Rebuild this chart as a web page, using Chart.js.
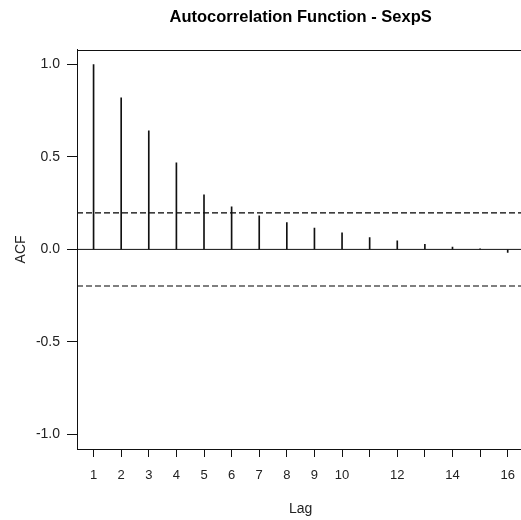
<!DOCTYPE html>
<html>
<head>
<meta charset="utf-8">
<script src="https://cdn.jsdelivr.net/npm/chart.js@4.4.1/dist/chart.umd.min.js"></script>
<style>
  html, body { margin: 0; padding: 0; background: #fff; overflow: hidden; }
  #wrap { width: 526px; height: 520px; }
</style>
</head>
<body>
<div id="wrap"><canvas id="acfChart" width="526" height="520"></canvas></div>
<script>
const lags = [1, 2, 3, 4, 5, 6, 7, 8, 9, 10, 11, 12, 13, 14, 15, 16];
const acfValues = [1.0, 0.82, 0.642, 0.469, 0.295, 0.231, 0.181, 0.145, 0.115, 0.09, 0.064, 0.046, 0.028, 0.013, 0.001, -0.017];
const xTickLabels = [1, 2, 3, 4, 5, 6, 7, 8, 9, 10, 12, 14, 16];
const yTicks = [-1, -0.5, 0, 0.5, 1];
const ciBound = 0.198;
const xMin = 0.4, xMax = 16.6;
const yMin = -1.08, yMax = 1.08;

const ink = '#111';

// box round the plot region, like R's box()
const boxPlugin = {
    id: 'box',
    afterDraw(chart) {
        const a = chart.chartArea;
        const c = chart.ctx;
        c.save();
        c.strokeStyle = ink;
        c.lineWidth = 1;
        c.strokeRect(Math.round(a.left) + 0.5, Math.round(a.top) + 0.5,
                     Math.round(a.right - a.left), Math.round(a.bottom - a.top));
        c.restore();
    }
};

new Chart(document.getElementById('acfChart'), {
    type: 'bar',
    data: {
        datasets: [{
            type: 'bar',
            data: lags.map((l, i) => ({ x: l, y: acfValues[i] })),
            backgroundColor: ink,
            borderWidth: 0,
            barThickness: 1,
            grouped: false
        }, {
            type: 'line',
            data: [{ x: xMin, y: 0 }, { x: xMax, y: 0 }],
            borderColor: ink,
            borderWidth: 1,
            pointRadius: 0
        }, {
            type: 'line',
            data: [{ x: xMin, y: ciBound }, { x: xMax, y: ciBound }],
            borderColor: '#000',
            borderWidth: 1.2,
            borderDash: [6, 3],
            pointRadius: 0
        }, {
            type: 'line',
            data: [{ x: xMin, y: -ciBound }, { x: xMax, y: -ciBound }],
            borderColor: '#000',
            borderWidth: 1.2,
            borderDash: [6, 3],
            pointRadius: 0
        }]
    },
    options: {
        responsive: false,
        animation: false,
        layout: { padding: 0 },
        plugins: {
            legend: { display: false },
            tooltip: { enabled: false },
            title: {
                display: true,
                fullSize: false,
                text: 'Autocorrelation Function - SexpS',
                color: '#000',
                font: { family: 'Liberation Sans', size: 16.5, weight: 'bold' },
                padding: { top: 8, bottom: 22 }
            }
        },
        scales: {
            x: {
                type: 'linear',
                min: xMin,
                max: xMax,
                offset: false,
                afterFit(s) { s.height = 71; },
                afterBuildTicks(s) { s.ticks = lags.map(v => ({ value: v })); },
                ticks: {
                    autoSkip: false,
                    maxRotation: 0,
                    color: '#222',
                    padding: 11,
                    font: { family: 'Liberation Sans', size: 13 },
                    callback: v => xTickLabels.includes(v) ? String(v) : ''
                },
                grid: { offset: false, drawOnChartArea: false, drawTicks: true, tickLength: 8, color: ink },
                border: { display: true, color: ink },
                title: {
                    display: true,
                    text: 'Lag',
                    color: '#222',
                    font: { family: 'Liberation Sans', size: 14 },
                    padding: { top: 0, bottom: 2 }
                }
            },
            y: {
                min: yMin,
                max: yMax,
                afterFit(s) { s.width = 77; },
                afterBuildTicks(s) { s.ticks = yTicks.map(v => ({ value: v })); },
                ticks: {
                    color: '#222',
                    padding: 7,
                    font: { family: 'Liberation Sans', size: 14 },
                    callback: v => v.toFixed(1)
                },
                grid: { drawOnChartArea: false, drawTicks: true, tickLength: 10, color: ink },
                border: { display: true, color: ink },
                title: {
                    display: true,
                    text: 'ACF',
                    color: '#222',
                    font: { family: 'Liberation Sans', size: 14 },
                    padding: { top: 13, bottom: 0 }
                }
            }
        }
    },
    plugins: [boxPlugin]
});
</script>
</body>
</html>
